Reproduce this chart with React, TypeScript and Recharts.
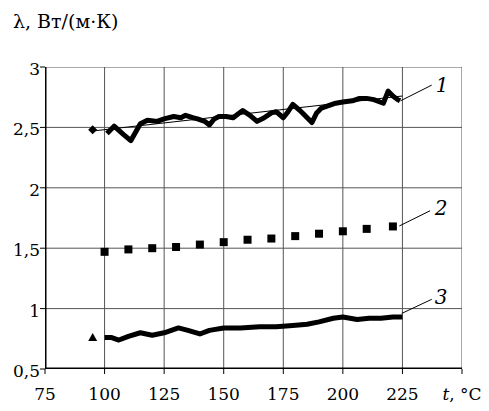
import React from 'react';
import { ComposedChart, Line, Scatter, XAxis, YAxis, ReferenceLine, ReferenceDot } from 'recharts';

// curve 1 (noisy measured line) and its trend
const curve1T = [101, 104, 108, 111, 115, 118, 122, 125, 129, 132, 134, 137, 139, 142, 144, 146, 148, 151, 154, 156, 158, 161, 164, 167, 170, 172, 175, 177, 179, 182, 184, 187, 189, 191, 194, 197, 200, 204, 207, 210, 213, 217, 219, 221, 223, 224];
const curve1L = [2.45, 2.51, 2.44, 2.39, 2.53, 2.56, 2.55, 2.57, 2.59, 2.58, 2.6, 2.58, 2.57, 2.55, 2.52, 2.57, 2.59, 2.59, 2.58, 2.61, 2.64, 2.6, 2.55, 2.58, 2.62, 2.63, 2.58, 2.63, 2.69, 2.64, 2.6, 2.54, 2.62, 2.66, 2.68, 2.7, 2.71, 2.72, 2.74, 2.74, 2.73, 2.7, 2.8, 2.76, 2.73, 2.72];
const trend1T = [95, 225];
const trend1L = [2.47, 2.76];
const mark1 = { t: 95, l: 2.48 };

// curve 2 (squares)
const curve2T = [100, 110, 120, 130, 140, 150, 160, 170, 180, 190, 200, 210, 221];
const curve2L = [1.47, 1.49, 1.5, 1.51, 1.53, 1.55, 1.57, 1.58, 1.6, 1.62, 1.64, 1.66, 1.68];

// curve 3
const curve3T = [100, 103, 106, 110, 115, 120, 125, 131, 135, 140, 144, 150, 157, 165, 172, 179, 185, 190, 196, 200, 206, 211, 216, 221, 225];
const curve3L = [0.76, 0.76, 0.74, 0.77, 0.8, 0.78, 0.8, 0.84, 0.82, 0.79, 0.82, 0.84, 0.84, 0.85, 0.85, 0.86, 0.87, 0.89, 0.92, 0.93, 0.91, 0.92, 0.92, 0.93, 0.93];
const mark3 = { t: 95, l: 0.76 };

const xTicks = [75, 100, 125, 150, 175, 200, 225, 250];
const yTicks = [0.5, 1, 1.5, 2, 2.5, 3];
const xMin = 75, xMax = 250, yMin = 0.5, yMax = 3;

const zip = (ts: number[], ls: number[]) => ts.map((t, i) => ({ t, l: ls[i] }));
const curve2 = zip(curve2T, curve2L);

const FONT = 'DejaVu Serif, Liberation Serif, serif';

const XTick = (props: any) => {
  const { x, y, payload } = props;
  const mark = <path d={`M${x},${y - 7}V${y - 2}`} stroke="#000" strokeWidth={1} />;
  if (payload.value === 250) {
    return (
      <g>
        {mark}
        <text x={x} y={y + 24} textAnchor="middle" fontFamily={FONT} fontSize={17} fill="#000">
          <tspan fontStyle="italic">t</tspan>, °C
        </text>
      </g>
    );
  }
  return (
    <g>
      {mark}
      <text x={x} y={y + 24} textAnchor="middle" fontFamily={FONT} fontSize={17} fill="#000">
        {payload.value}
      </text>
    </g>
  );
};

const YTick = (props: any) => {
  const { x, y, payload } = props;
  return (
    <g>
      <path d={`M${x + 2},${y}H${x + 7}`} stroke="#000" strokeWidth={1} />
      <text x={x + 2} y={y + 8} textAnchor="end" fontFamily={FONT} fontSize={17} fill="#000">
        {String(payload.value).replace('.', ',')}
      </text>
    </g>
  );
};

const Diamond = (props: any) => {
  const { cx, cy } = props;
  return <polygon points={`${cx},${cy - 4.5} ${cx + 4.5},${cy} ${cx},${cy + 4.5} ${cx - 4.5},${cy}`} fill="#000" />;
};

const Square = (props: any) => {
  const { cx, cy } = props;
  return <rect x={cx - 4} y={cy - 4} width={8} height={8} fill="#000" />;
};

const Triangle = (props: any) => {
  const { cx, cy } = props;
  return <polygon points={`${cx},${cy - 4.5} ${cx + 4.5},${cy + 3.5} ${cx - 4.5},${cy + 3.5}`} fill="#000" />;
};

const CurveLabel = (text: string) => (props: any) => {
  const { cx, cy } = props;
  return (
    <text x={cx} y={cy + 7} fontFamily={FONT} fontSize={20} fontStyle="italic" fill="#000">
      {text}
    </text>
  );
};

export default function App() {
  return (
    <div style={{ position: 'relative', margin: -8, width: 489, height: 411, background: '#fff' }}>
      <div style={{ position: 'absolute', left: 13, top: 10, fontFamily: FONT, fontSize: 19, color: '#000', whiteSpace: 'nowrap' }}>
        λ, Вт/(м·К)
      </div>
      <ComposedChart data={curve2} width={489} height={411} margin={{ top: 67, right: 27, bottom: 0, left: 0 }}>
        <XAxis
          dataKey="t"
          type="number"
          domain={[xMin, xMax]}
          ticks={xTicks}
          allowDataOverflow
          height={42}
          axisLine={false}
          tickLine={false}
          tickSize={5}
          tick={<XTick />}
        />
        <YAxis
          dataKey="l"
          type="number"
          domain={[yMin, yMax]}
          ticks={yTicks}
          allowDataOverflow
          width={45}
          axisLine={false}
          tickLine={false}
          tickSize={5}
          tick={<YTick />}
        />
        {/* grid drawn as two-point lines through the scales */}
        {xTicks.map((t) => (
          <Line key={'gx' + t} data={[{ t, l: yMin }, { t, l: yMax }]} dataKey="l" stroke="#555" strokeWidth={1} dot={false} activeDot={false} isAnimationActive={false} />
        ))}
        {yTicks.map((v) => (
          <Line key={'gy' + v} data={[{ t: xMin, l: v }, { t: xMax, l: v }]} dataKey="l" stroke="#555" strokeWidth={1} dot={false} activeDot={false} isAnimationActive={false} />
        ))}
        <Line data={[{ t: xMin, l: yMin }, { t: xMin, l: yMax }]} dataKey="l" stroke="#000" strokeWidth={3} dot={false} activeDot={false} isAnimationActive={false} />
        <Line data={[{ t: xMin, l: yMin }, { t: xMax, l: yMin }]} dataKey="l" stroke="#000" strokeWidth={3} dot={false} activeDot={false} isAnimationActive={false} />

        <Line data={zip(trend1T, trend1L)} dataKey="l" stroke="#000" strokeWidth={1.2} dot={false} activeDot={false} isAnimationActive={false} />
        <Line data={zip(curve1T, curve1L)} dataKey="l" stroke="#000" strokeWidth={5} strokeLinejoin="round" dot={false} activeDot={false} isAnimationActive={false} />
        <Line data={zip(curve3T, curve3L)} dataKey="l" stroke="#000" strokeWidth={5} strokeLinejoin="round" dot={false} activeDot={false} isAnimationActive={false} />
        <Scatter data={[mark1]} dataKey="l" shape={<Diamond />} isAnimationActive={false} />
        <Scatter data={curve2} dataKey="l" shape={<Square />} isAnimationActive={false} />
        <Scatter data={[mark3]} dataKey="l" shape={<Triangle />} isAnimationActive={false} />
        <ReferenceLine segment={[{ x: 224.2, y: 2.72 }, { x: 237.3, y: 2.85 }]} stroke="#000" strokeWidth={1} ifOverflow="visible" />
        <ReferenceLine segment={[{ x: 223.7, y: 1.684 }, { x: 236.6, y: 1.81 }]} stroke="#000" strokeWidth={1} ifOverflow="visible" />
        <ReferenceLine segment={[{ x: 224.7, y: 0.96 }, { x: 237.3, y: 1.077 }]} stroke="#000" strokeWidth={1} ifOverflow="visible" />
        <ReferenceDot x={239} y={2.85} r={0} ifOverflow="visible" shape={CurveLabel('1')} />
        <ReferenceDot x={238.6} y={1.83} r={0} ifOverflow="visible" shape={CurveLabel('2')} />
        <ReferenceDot x={238.6} y={1.1} r={0} ifOverflow="visible" shape={CurveLabel('3')} />
      </ComposedChart>
    </div>
  );
}
